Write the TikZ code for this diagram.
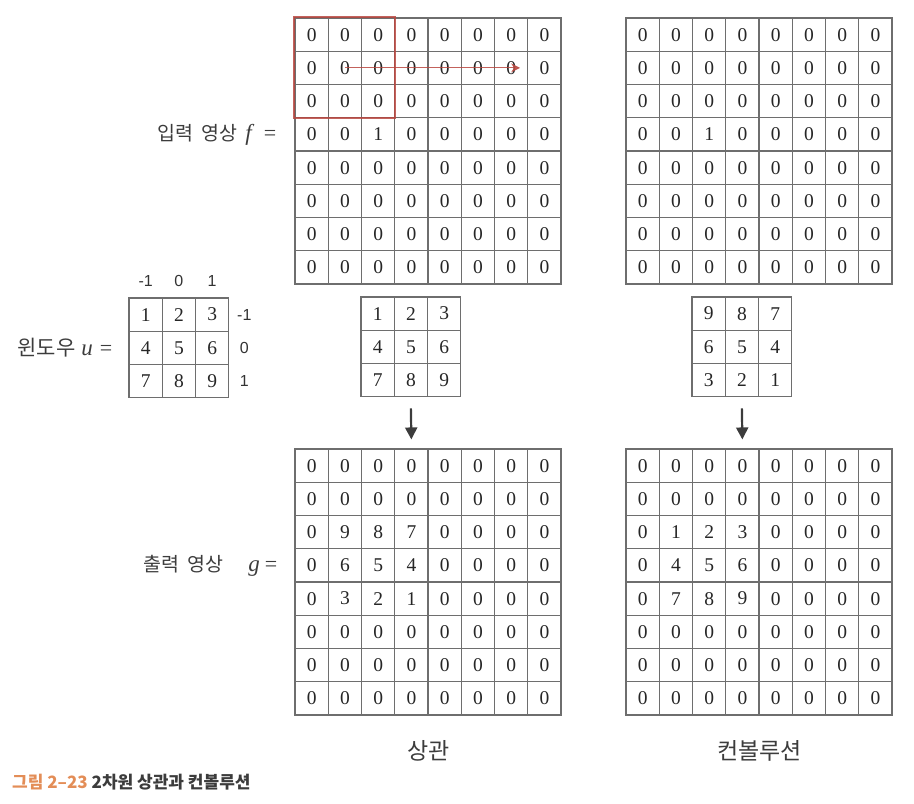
\documentclass[tikz,border=0pt]{standalone}
\usepackage{fontspec}
\setmainfont{Liberation Serif}
\newfontfamily\krfont{Noto Sans CJK KR}
\newfontfamily\idxfont{Liberation Sans}
\usetikzlibrary{arrows.meta,positioning}

\definecolor{gridgray}{HTML}{6E6E6E}
\definecolor{markred}{HTML}{B8473F}
\definecolor{textgray}{HTML}{3C3C3C}
\definecolor{caporange}{HTML}{E38D57}

% grid of value cells: name, left x, top y, rows
\newcommand{\cellgrid}[4]{%
  \foreach \row [count=\r from 0] in {#4} {
    \foreach \v [count=\c from 0] in \row {
      \node[cell] (#1-\r-\c) at (#2+\c*33.25+16.625, #3+\r*33.25+16.625) {\v};
    }
  }
}
% italic math letter at label size
\newcommand{\lblvar}[1]{{\rmfamily\fontsize{23}{23}\selectfont\itshape #1}}
\newcommand{\lbleq}{{\rmfamily\fontsize{22}{22}\selectfont =}}

\begin{document}
\begin{tikzpicture}[x=1pt, y=-1pt,
    cell/.style={rectangle, draw=gridgray, line width=1.1pt, minimum size=33.25pt, inner sep=0pt, text=black!85, font=\fontsize{19.5}{19.5}\selectfont},
    kor/.style={text=textgray, font=\krfont\fontsize{19.5}{22}\selectfont, inner sep=0pt},
    idx/.style={text=black!80, font=\idxfont\fontsize{16}{16}\selectfont, inner sep=0pt},
    flow/.style={draw=textgray, line width=2.2pt, -{Triangle[length=12pt,width=12pt]}}]
    \useasboundingbox (0,0) rectangle (914,804);

    % input images
    \cellgrid{f}{295}{18}{{0,0,0,0,0,0,0,0},{0,0,0,0,0,0,0,0},{0,0,0,0,0,0,0,0},{0,0,1,0,0,0,0,0},{0,0,0,0,0,0,0,0},{0,0,0,0,0,0,0,0},{0,0,0,0,0,0,0,0},{0,0,0,0,0,0,0,0}}
    \cellgrid{fc}{626}{18}{{0,0,0,0,0,0,0,0},{0,0,0,0,0,0,0,0},{0,0,0,0,0,0,0,0},{0,0,1,0,0,0,0,0},{0,0,0,0,0,0,0,0},{0,0,0,0,0,0,0,0},{0,0,0,0,0,0,0,0},{0,0,0,0,0,0,0,0}}

    % window and the two kernels
    \cellgrid{u}{129}{298}{{1,2,3},{4,5,6},{7,8,9}}
    \cellgrid{k}{361}{297}{{1,2,3},{4,5,6},{7,8,9}}
    \cellgrid{kc}{692}{297}{{9,8,7},{6,5,4},{3,2,1}}

    % output images
    \cellgrid{g}{295}{449}{{0,0,0,0,0,0,0,0},{0,0,0,0,0,0,0,0},{0,9,8,7,0,0,0,0},{0,6,5,4,0,0,0,0},{0,3,2,1,0,0,0,0},{0,0,0,0,0,0,0,0},{0,0,0,0,0,0,0,0},{0,0,0,0,0,0,0,0}}
    \cellgrid{gc}{626}{449}{{0,0,0,0,0,0,0,0},{0,0,0,0,0,0,0,0},{0,1,2,3,0,0,0,0},{0,4,5,6,0,0,0,0},{0,7,8,9,0,0,0,0},{0,0,0,0,0,0,0,0},{0,0,0,0,0,0,0,0},{0,0,0,0,0,0,0,0}}

    % sliding window mark
    \draw[markred, line width=2pt, opacity=0.85] (f-0-0.north west) rectangle (f-2-2.south east);
    \draw[markred, line width=1.1pt, opacity=0.85, -{Stealth[length=9pt,width=9pt]}] (f-1-1.center) -- ([xshift=9pt]f-1-6.center);

    % window indices
    \foreach \lab [count=\c from 0] in {-1,0,1} {
        \node[idx] (ucol\c) at ([yshift=16pt]u-0-\c.north) {\lab};
        \node[idx] (urow\c) at ([xshift=15pt]u-\c-2.east) {\lab};
    }

    % labels
    \node[kor, anchor=east] (inlabel) at ([xshift=-18pt]f-3-0.west) {입력\hspace{4pt} 영상\hspace{8pt}\lblvar{f}\hspace{12pt}\lbleq};
    \node[kor, anchor=east, font=\krfont\fontsize{21}{22}\selectfont] (winlabel) at ([xshift=-16pt]u-1-0.west) {윈도우\hspace{6pt}\lblvar{u}\hspace{7pt}\lbleq};
    \node[kor, anchor=east] (outlabel) at ([xshift=-17pt]g-3-0.west) {출력\hspace{4pt} 영상\hspace{25pt}\lblvar{g}\hspace{5pt}\lbleq};

    \draw[flow] ([yshift=-11pt]k-2-1.south) -- ([yshift=9pt]g-0-3.north);
    \draw[flow] ([yshift=-11pt]kc-2-1.south) -- ([yshift=9pt]gc-0-3.north);

    \node[kor, font=\krfont\fontsize{23}{24}\selectfont] (corrlabel) at ([yshift=-35pt]g-7-3.south east) {상관};
    \node[kor, font=\krfont\fontsize{23}{24}\selectfont] (convlabel) at ([yshift=-35pt]gc-7-3.south east) {컨볼루션};

    \node[anchor=west, inner sep=0pt, font=\krfont\bfseries\fontsize{17}{17}\selectfont] (caption) at (12,782)
        {\textcolor{caporange}{그림 2–23}\ \textcolor{textgray}{2차원 상관과 컨볼루션}};
\end{tikzpicture}
\end{document}
